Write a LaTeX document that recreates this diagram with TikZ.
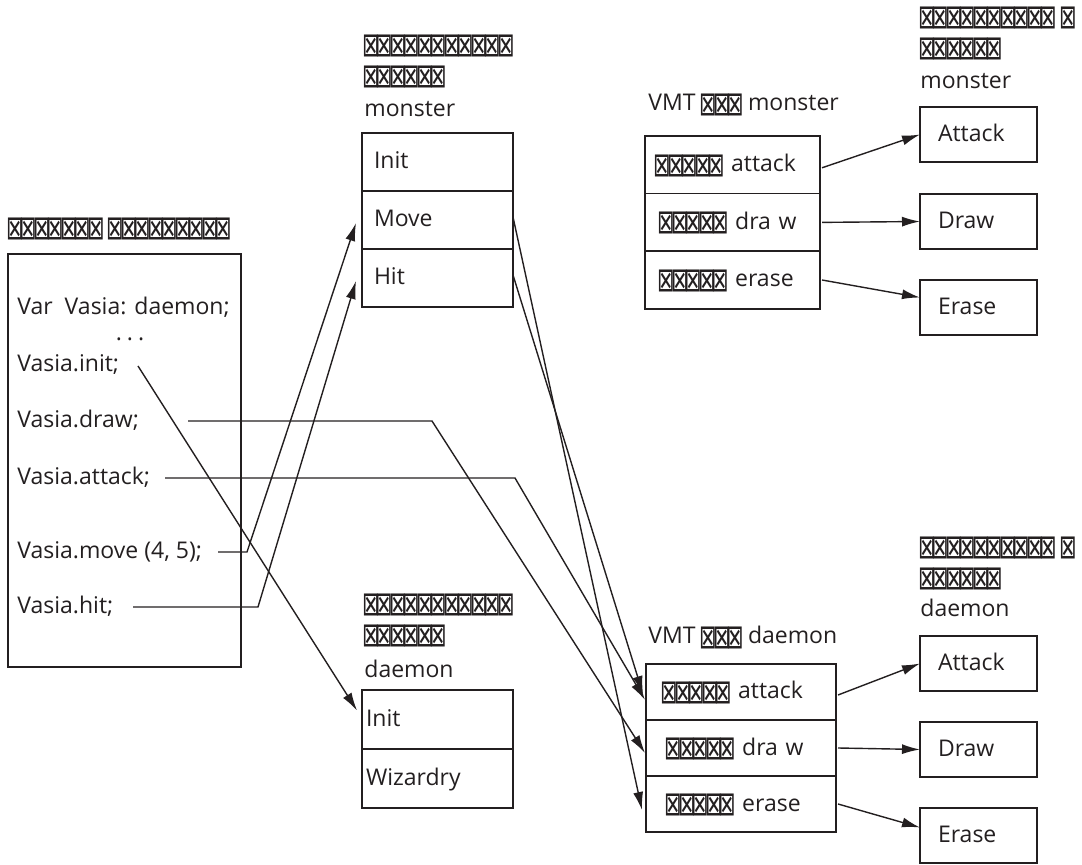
\documentclass[tikz,border=0pt]{standalone}
\usepackage{fontspec}
\setmainfont{Open Sans}
\newfontfamily\boxfont{DejaVu Sans}
\usepackage{graphicx}
\usetikzlibrary{arrows.meta,calc}

\definecolor{ink}{RGB}{35,31,32}
\newcommand{\tfont}{\fontsize{11.5pt}{15.5pt}\selectfont}
% one "missing glyph" box, and a row of them
\newcommand{\bx}{\makebox[6.75pt]{\raisebox{\dimexpr\depth-2.5pt\relax}[8pt][0pt]{\resizebox*{8.8pt}{11pt}{\boxfont ⊠}}}}
\newcommand{\bxs}[1]{\foreach\k in {1,...,#1}{\bx}}

\begin{document}
\begin{tikzpicture}[x=0.5pt, y=-0.5pt, color=ink,
    every node/.style={font=\tfont},
    txt/.style={inner sep=0pt, anchor=base west},
    row/.style={draw, line width=0.9pt, outer sep=0pt, anchor=north west,
      inner ysep=0pt, text height=9.5pt, text depth=2.5pt, align=left},
    ms/.style={row, minimum height=29pt, text width=63.5pt, inner xsep=6pt},
    ds/.style={row, minimum height=29.5pt, text width=71.5pt, inner xsep=2pt},
    vm/.style={row, minimum height=28.8pt, text width=76.5pt, inner xsep=5.5pt},
    vd/.style={row, minimum height=28pt, text width=78pt, inner xsep=8.5pt},
    rb/.style={row, minimum height=27.5pt, text width=40.5pt, inner xsep=9pt},
    link/.style={line width=0.7pt, -{Latex[length=9pt,width=5pt]}}]
  \useasboundingbox (0,0) rectangle (1082,865);
  %% program fragment
  \node[txt] (proglbl) at (8,235) {\bxs{7} \bxs{9}};
  \node[draw, line width=0.9pt, outer sep=0pt, anchor=north west, inner sep=0pt,
    minimum width=116.5pt, minimum height=206.5pt] (prog) at (8,254) {};
  \node[txt] (vvar) at (17,315) {Var~~Vasia: daemon;};
  \node[txt, anchor=base] (vdots) at (130,341) {.\hspace{2.5pt}.\hspace{2.5pt}.};
  \node[txt] (vinit) at (17,372) {Vasia.init;};
  \node[txt] (vdraw) at (17,428) {Vasia.draw;};
  \node[txt] (vatt) at (17,485) {Vasia.attack;};
  \node[txt] (vmove) at (17,559) {Vasia.move (4, 5);};
  \node[txt] (vhit) at (17,614) {Vasia.hit;};
  %% static methods of monster
  \node[txt] (mslbl1) at (364,52) {\bxs{11}};
  \node[txt] (mslbl2) at (364,83) {\bxs{6}};
  \node[txt] (mslbl3) at (364,117) {monster};
  \node[ms] (msInit) at (362,133) {Init};
  \node[ms] (msMove) at (msInit.south west) {Move};
  \node[ms] (msHit) at (msMove.south west) {Hit};
  %% static methods of daemon
  \node[txt] (dslbl1) at (364,611) {\bxs{11}};
  \node[txt] (dslbl2) at (364,642) {\bxs{6}};
  \node[txt] (dslbl3) at (364,678) {daemon};
  \node[ds] (dsInit) at (362,690) {Init};
  \node[ds] (dsWiz) at (dsInit.south west) {Wizardry};
  %% VMT of monster
  \node[txt] (vmlbl) at (648,111) {VMT \bxs{3} monster};
  \node[vm] (vmAttack) at (645,136) {\bxs{5} attack};
  \node[vm] (vmDraw) at (vmAttack.south west) {\hspace{2pt}\bxs{5} dra w};
  \node[vm] (vmErase) at (vmDraw.south west) {\hspace{2pt}\bxs{5} erase};
  %% VMT of daemon
  \node[txt] (vdlbl) at (648,644) {VMT \bxs{3} daemon};
  \node[vd] (vdAttack) at (646,664) {\bxs{5} attack};
  \node[vd] (vdDraw) at (vdAttack.south west) {\hspace{2pt}\bxs{5} dra w};
  \node[vd] (vdErase) at (vdDraw.south west) {\hspace{2pt}\bxs{5} erase};
  %% implementations in monster
  \node[txt] (rmlbl1) at (920,24) {\bxs{10} \bx};
  \node[txt] (rmlbl2) at (920,55) {\bxs{6}};
  \node[txt] (rmlbl3) at (920,89) {monster};
  \node[rb] (rmAttack) at (920,107) {Attack};
  \node[rb] (rmDraw) at (920,194) {Draw};
  \node[rb] (rmErase) at (920,280) {Erase};
  %% implementations in daemon
  \node[txt] (rdlbl1) at (920,554) {\bxs{10} \bx};
  \node[txt] (rdlbl2) at (920,585) {\bxs{6}};
  \node[txt] (rdlbl3) at (920,617) {daemon};
  \node[rb] (rdAttack) at (920,636) {Attack};
  \node[rb] (rdDraw) at (920,722) {Draw};
  \node[rb] (rdErase) at (920,808) {Erase};
  %% calls from the program
  \coordinate (cinit) at (138,366);
  \coordinate (cdraw) at (188,421);
  \coordinate (cdrawk) at (432,421);
  \coordinate (catt) at (165,478);
  \coordinate (cattk) at (515,478);
  \coordinate (cmove) at (218,552);
  \coordinate (cmovek) at (247,552);
  \coordinate (chit) at (133,607);
  \coordinate (chitk) at (258,607);
  \draw[link] (cinit) -- ($(dsInit.west)+(-5,-9)$);
  \draw[link] (cdraw) -- (cdrawk) -- ($(vdDraw.west)+(-1,5)$);
  \draw[link] (catt) -- (cattk) -- ($(vdAttack.west)+(-1,8)$);
  \draw[link] (cmove) -- (cmovek) -- ($(msMove.west)+(-6,3)$);
  \draw[link] (chit) -- (chitk) -- ($(msHit.west)+(-6,3)$);
  %% calls from the static methods
  \draw[link] ($(msMove.east)+(0,-3)$) -- ($(vdErase.west)+(-4,6)$);
  \draw[link] ($(msHit.east)+(0,-3)$) -- ($(vdAttack.west)+(-3,2)$);
  %% VMT entries to implementations
  \draw[link] ($(vmAttack.east)+(2,3)$) -- (rmAttack.west);
  \draw[link] ($(vmDraw.east)+(2,0)$) -- (rmDraw.west);
  \draw[link] ($(vmErase.east)+(2,0)$) -- ($(rmErase.west)+(0,-10)$);
  \draw[link] ($(vdAttack.east)+(2,3)$) -- (rdAttack.west);
  \draw[link] ($(vdDraw.east)+(2,0)$) -- (rdDraw.west);
  \draw[link] ($(vdErase.east)+(2,0)$) -- ($(rdErase.west)+(0,-8)$);
\end{tikzpicture}
\end{document}
